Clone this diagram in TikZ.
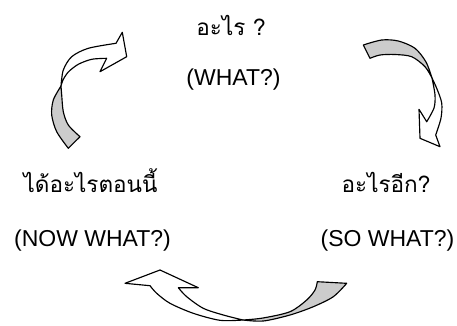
\documentclass[tikz,border=0pt]{standalone}
\usepackage{fontspec}
\setmainfont{Liberation Sans}
\newfontfamily\thaifont[Script=Thai]{Loma}
\begin{document}
\begin{tikzpicture}[x=1pt,y=-1pt,
  band/.style={draw=black,line width=1.15pt,line join=round},
  backside/.style={band,fill=black!20},
  frontside/.style={band,fill=white},
  th/.style={anchor=base,font=\thaifont\fontsize{22.5}{26}\selectfont,inner sep=0pt},
  en/.style={anchor=base,font=\fontsize{23}{27}\selectfont,inner sep=0pt}]
\useasboundingbox (0,0) rectangle (457,325);

% texts
\node[th] (t1) at (231,35) {อะไร ?};
\node[en] (e1) at (233.5,85.5) {(WHAT?)};
\node[th] (t2) at (386,192.5) {อะไรอีก?};
\node[en] (e2) at (387.5,246) {(SO WHAT?)};
\node[th] (t3) at (90.5,192.5) {ได้อะไรตอนนี้};
\node[en] (e3) at (92.5,246) {(NOW WHAT?)};

% arrow 1 (left, pointing up-right)
\path[backside] plot[smooth] coordinates {(61,86) (53.3,100) (51.7,115) (56.7,131.7) (68.3,148.3)}
  -- (80,136.7)
  -- plot[smooth] coordinates {(80,136.7) (68.3,125) (63.3,111.7) (61.7,95) (61,86)} -- cycle;
\path[frontside] plot[smooth] coordinates {(61,86) (63.3,70) (71.7,56.7) (88.3,48.3) (116,43.3)}
  -- (122.3,32.3) -- (126.7,56.7) -- (100,71.7) -- (106.7,58.3)
  -- plot[smooth] coordinates {(106.7,58.3) (91.7,59.3) (78.3,64.3) (68.3,72) (63,80) (61,86)} -- cycle;

% arrow 2 (right, pointing down)
\path[backside] plot[smooth] coordinates {(363.3,45) (381.7,40) (398.3,41) (415,48.3) (426,62) (432,78)}
  -- plot[smooth] coordinates {(432,78) (425,66.7) (411.7,56.7) (395,54.5) (380,55) (370,58.3)} -- cycle;
\path[frontside] plot[smooth] coordinates {(432,78) (437,89) (441.7,103) (441,118) (435.7,135)}
  -- (440,146.7) -- (420,138.3) -- (419,109.3) -- (426.7,121.7)
  -- plot[smooth] coordinates {(426.7,121.7) (434,108) (435,95) (432,78)} -- cycle;

% arrow 3 (bottom, pointing left)
\path[backside] plot[smooth] coordinates {(243,320) (263.3,321) (290,315) (313.3,306.7) (333.3,296.7) (346.7,283.3)}
  -- (317.3,281.7)
  -- plot[smooth] coordinates {(317.3,281.7) (315,290) (306.7,300) (290,311.7) (263,318) (243,320)} -- cycle;
\path[frontside] plot[smooth] coordinates {(243,320) (220,320.3) (193.3,313.3) (170,303.3) (156.7,293.3) (150,285.7)}
  -- (125,283.3) -- (160,270) -- (198.3,287.7) -- (178.3,287.7)
  -- plot[smooth] coordinates {(178.3,287.7) (186.7,296.7) (203.3,308.3) (223.3,315) (243,320)} -- cycle;
\end{tikzpicture}
\end{document}
